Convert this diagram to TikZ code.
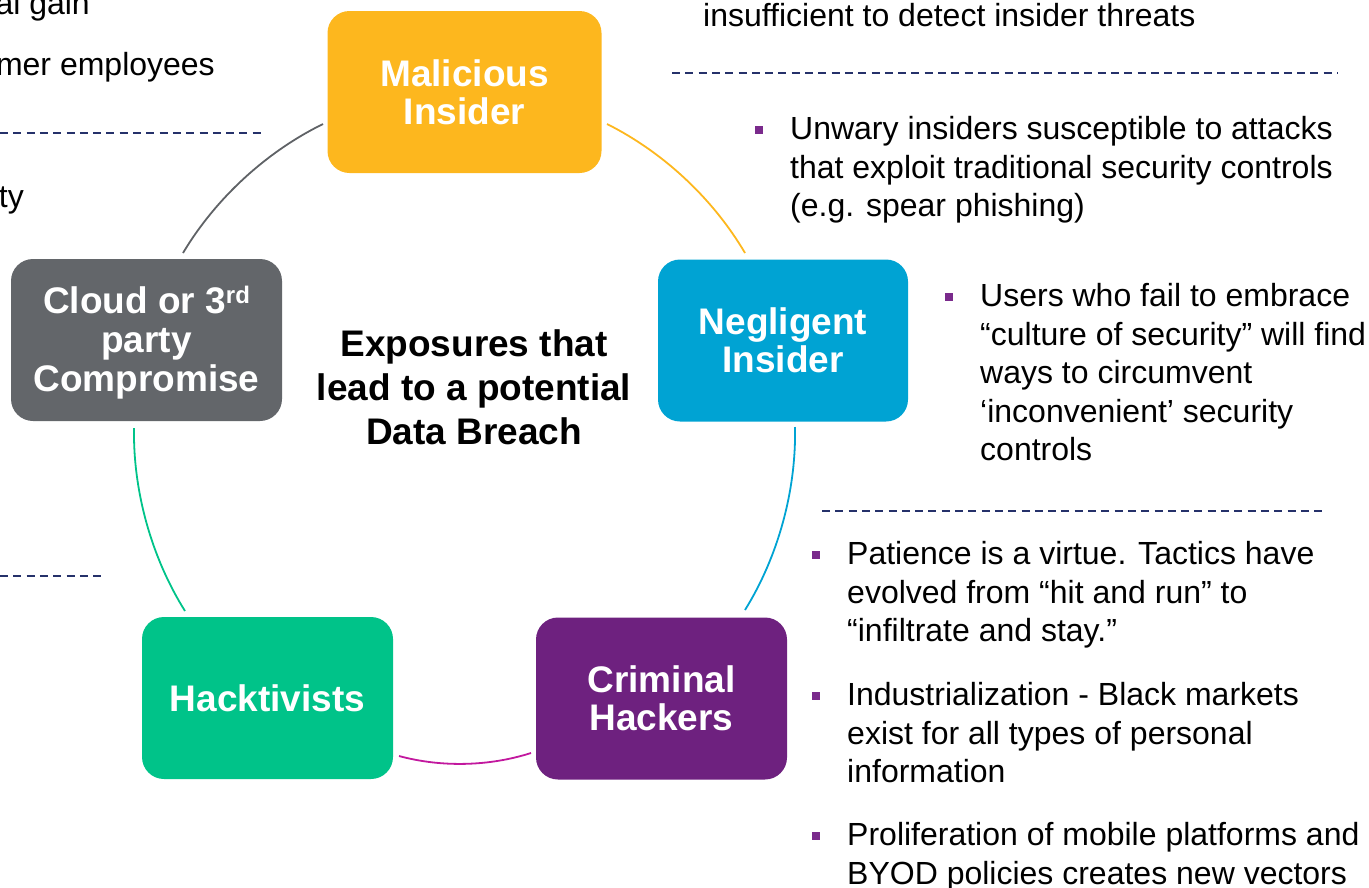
\documentclass[tikz,border=0pt]{standalone}
\usepackage{fontspec}
\setmainfont{Liberation Sans}
\usetikzlibrary{calc}

% palette
\definecolor{malc}{HTML}{FDB71E}
\definecolor{negc}{HTML}{00A3D3}
\definecolor{crimc}{HTML}{6E217F}
\definecolor{hackc}{HTML}{00C389}
\definecolor{cloudc}{HTML}{63666A}
\definecolor{arcgray}{HTML}{5F6266}
\definecolor{arcmag}{HTML}{C2189E}
\definecolor{navyc}{HTML}{25316A}
\definecolor{bulletc}{HTML}{7A2A8C}

% type sizes
\newcommand\boxfont{\fontsize{37}{38}\selectfont\bfseries}
\newcommand\corefont{\fontsize{37}{44}\selectfont\bfseries}
\newcommand\bodyfont{\fontsize{32}{38.5}\selectfont}
\newcommand\parastrut{\rule{0pt}{24pt}}

\tikzset{
  box/.style={rounded corners=22pt, inner sep=0pt, text=white, font=\boxfont,
              align=center, minimum height=162pt},
  para/.style={anchor=north west, inner sep=0pt, align=left, font=\bodyfont},
  clipped/.style={anchor=base east, inner sep=0pt, font=\bodyfont},
  sq/.style={fill=bulletc, minimum size=7.5pt, inner sep=0pt},
  ring/.style={line width=1.8pt, bend left=16.5, looseness=0.85},
  divider/.style={draw=navyc, line width=2pt, dash pattern=on 8pt off 5.3pt},
}

\begin{document}
\begin{tikzpicture}[x=1pt, y=-1pt]
\useasboundingbox (0,0) rectangle (1369,887);

% ---- the five exposure boxes
\node[box, fill=malc,   minimum width=274pt] (mal)   at (464.5,92)  {Malicious\\Insider};
\node[box, fill=negc,   minimum width=250pt] (neg)   at (783,340.5) {Negligent\\Insider};
\node[box, fill=crimc,  minimum width=251pt] (crim)  at (661.5,698.5) {Criminal\\Hackers};
\node[box, fill=hackc,  minimum width=251pt] (hack)  at (267.5,698) {Hacktivists};
\node[box, fill=cloudc, minimum width=271pt] (cloud) at (146.5,340) {};
\node[inner sep=0pt, text=white, font=\fontsize{37}{39}\selectfont\bfseries, align=center]
  (cloudtxt) at (146.5,342.5)
  {Cloud or 3\raisebox{10pt}{\fontsize{24}{24}\selectfont rd}\\party\\Compromise};

% ---- central caption
\node[inner sep=0pt, align=center, font=\corefont] (core) at (474,387)
  {Exposures that\\lead to a potential\\Data Breach};

% ---- ring segments between the boxes
\coordinate (mal-out)   at (607,124);
\coordinate (neg-in)    at (745,253);
\coordinate (neg-out)   at (795,427);
\coordinate (crim-in)   at (745,610);
\coordinate (crim-out)  at (531,753);
\coordinate (hack-in)   at (399,756);
\coordinate (hack-out)  at (185,611);
\coordinate (cloud-in)  at (134,428);
\coordinate (cloud-out) at (183,253);
\coordinate (mal-in)    at (323,124);

\draw[ring, malc]    (mal-out)   to (neg-in);
\draw[ring, negc]    (neg-out)   to (crim-in);
\draw[ring, arcmag]  (crim-out)  to (hack-in);
\draw[ring, hackc]   (hack-out)  to (cloud-in);
\draw[ring, arcgray] (cloud-out) to (mal-in);

% ---- dashed dividers
\draw[divider] (0,133) -- (262,133);
\draw[divider] (0,576) -- (103,576);
\draw[divider] (672,73) -- (1338,73);
\draw[divider] (822,511) -- (1327,511);

% ---- text running in from the left edge
\node[clipped] (lt1) at (90,14)  {al gain};
\node[clipped] (lt2) at (215,75) {mer employees};
\node[clipped] (lt3) at (24,207) {ty};

% ---- right-hand notes
\node[para] (nA) at (703,2) {\parastrut insufficient to detect insider threats};

\node[sq] (bB) at (759,130) {};
\node[para] (nB) at (790,115.5)
  {\parastrut Unwary insiders susceptible to attacks\\
   that exploit traditional security controls\\
   (e.g. spear phishing)};

\node[sq] (bC) at (949,297) {};
\node[para] (nC) at (980,282.5)
  {\parastrut Users who fail to embrace\\
   “culture of security” will find\\
   ways to circumvent\\
   ‘inconvenient’ security\\
   controls};

\node[sq] (bD) at (816,555) {};
\node[para] (nD) at (847,540.5)
  {\parastrut Patience is a virtue. Tactics have\\
   evolved from “hit and run” to\\
   “infiltrate and stay.”};

\node[sq] (bE) at (816,696) {};
\node[para] (nE) at (847,681.5)
  {\parastrut Industrialization - Black markets\\
   exist for all types of personal\\
   information};

\node[sq] (bF) at (816,836) {};
\node[para] (nF) at (847,821.5)
  {\parastrut Proliferation of mobile platforms and\\
   BYOD policies creates new vectors};
\end{tikzpicture}
\end{document}
